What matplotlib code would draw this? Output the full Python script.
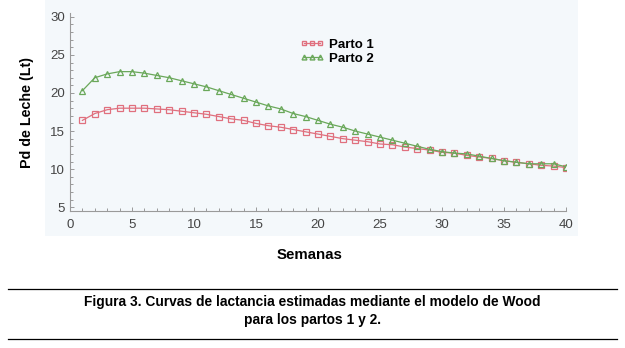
import numpy as np
import matplotlib
matplotlib.use("Agg")
import matplotlib.pyplot as plt
from matplotlib.patches import Rectangle
from matplotlib.lines import Line2D
from matplotlib.ticker import MultipleLocator

plt.rcParams['font.family'] = ['Liberation Sans', 'DejaVu Sans']

semanas = list(range(1, 41))
parto1 = [16.4, 17.3, 17.8, 18.0, 18.0, 18.0, 17.9, 17.8, 17.6, 17.4,
          17.2, 16.9, 16.6, 16.4, 16.0, 15.7, 15.5, 15.2, 14.9, 14.6,
          14.3, 14.0, 13.8, 13.6, 13.3, 13.2, 12.9, 12.7, 12.5, 12.2,
          12.1, 11.8, 11.6, 11.4, 11.1, 10.9, 10.7, 10.5, 10.4, 10.2]
parto2 = [20.3, 22.0, 22.5, 22.8, 22.8, 22.6, 22.3, 22.0, 21.6, 21.2,
          20.8, 20.3, 19.8, 19.3, 18.8, 18.3, 17.9, 17.3, 16.9, 16.4,
          15.9, 15.5, 15.0, 14.6, 14.2, 13.8, 13.4, 13.0, 12.6, 12.3,
          12.1, 12.0, 11.7, 11.4, 11.1, 10.9, 10.7, 10.7, 10.7, 10.3]
series_labels = ['Parto 1', 'Parto 2']

W, H = 625, 348
fig = plt.figure(figsize=(W / 100, H / 100), dpi=100)

# light blue panel behind the chart
fig.patches.append(Rectangle((45 / W, 1 - 236 / H), (578 - 45) / W, 236 / H,
                             transform=fig.transFigure, facecolor='#f4f8fb',
                             edgecolor='none', zorder=-5))

ax = fig.add_axes([70 / W, 1 - 211 / H, (566 - 70) / W, (211 - 13) / H])
ax.set_facecolor('none')
ax.set_zorder(2)

red = '#e0707e'
green = '#6aa85a'
ax.plot(semanas, parto1, color=red, lw=0.9, marker='s', ms=4.5,
        mfc='none', mec=red, mew=0.9)
ax.plot(semanas, parto2, color=green, lw=0.9, marker='^', ms=4.5,
        mfc='none', mec=green, mew=0.9)

ax.set_xlim(0, 40)
ax.set_ylim(4.5, 30.5)
ax.xaxis.set_major_locator(MultipleLocator(5))
ax.xaxis.set_minor_locator(MultipleLocator(1))
ax.yaxis.set_major_locator(MultipleLocator(5))
ax.yaxis.set_minor_locator(MultipleLocator(1))
ax.tick_params(which='both', direction='in', color='#9a9a9a', labelcolor='#444444',
               labelsize=9.5, width=0.7)
ax.tick_params(which='major', length=3)
ax.tick_params(which='minor', length=2)
ax.tick_params(axis='x', pad=6)
for s in ['top', 'right']:
    ax.spines[s].set_visible(False)
for s in ['left', 'bottom']:
    ax.spines[s].set_color('#9a9a9a')
    ax.spines[s].set_linewidth(0.8)

# legend
handles = [Line2D([], [], color=red, lw=0.9, marker='s', ms=3.5, mfc='none', mec=red),
           Line2D([], [], color=green, lw=0.9, marker='^', ms=3.5, mfc='none', mec=green)]
leg = fig.legend(handles, series_labels, loc='upper left', numpoints=3,
                 bbox_to_anchor=(288 / W, 1 - 27 / H), frameon=False,
                 handlelength=1.8, handletextpad=0.4, labelspacing=0.1,
                 prop={'weight': 'bold', 'size': 9.5})
leg.set_zorder(3)

fig.text(27 / W, 1 - 112 / H, 'Pd de Leche (Lt)', rotation=90, ha='center', va='center',
         fontsize=10.3, fontweight='bold')
fig.text(310 / W, 1 - 255 / H, 'Semanas', ha='center', va='center',
         fontsize=10.8, fontweight='bold')

fig.add_artist(Line2D([8 / W, 617 / W], [1 - 289 / H, 1 - 289 / H], color='black', lw=0.9))
fig.add_artist(Line2D([8 / W, 617 / W], [1 - 339 / H, 1 - 339 / H], color='black', lw=0.9))
fig.text(312 / W, 1 - 302 / H, 'Figura 3. Curvas de lactancia estimadas mediante el modelo de Wood',
         ha='center', va='center', fontsize=9.9, fontweight='bold')
fig.text(312 / W, 1 - 320 / H, 'para los partos 1 y 2.',
         ha='center', va='center', fontsize=9.9, fontweight='bold')

fig.savefig('out.png', dpi=100, facecolor='white')
